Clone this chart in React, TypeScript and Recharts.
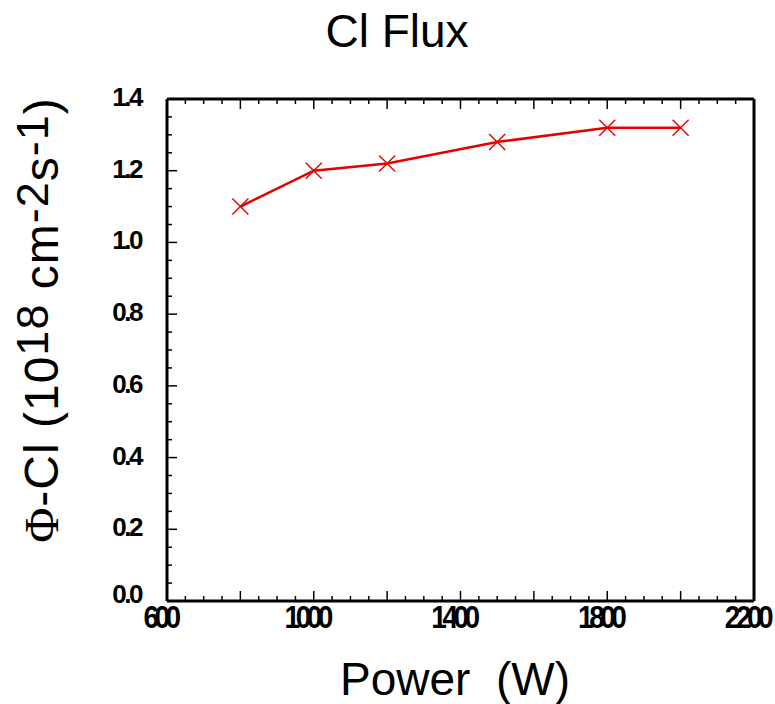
import React from "react";
import { LineChart, Line, XAxis, YAxis } from "recharts";

const power = [800, 1000, 1200, 1500, 1800, 2000];
const flux = [1.1, 1.2, 1.22, 1.28, 1.32, 1.32];
const xLabels = [600, 1000, 1400, 1800, 2200];
const yLabels = ["0.0", "0.2", "0.4", "0.6", "0.8", "1.0", "1.2", "1.4"];

const data = power.map((p, i) => ({ power: p, flux: flux[i] }));

// minor ticks every 50 W / 0.05
const xTicks: number[] = [];
for (let v = 600; v <= 2200; v += 50) xTicks.push(v);
const yTicks: number[] = [];
for (let i = 0; i <= 28; i++) yTicks.push(Math.round(i * 5) / 100);

const FONT = "'Liberation Sans', Arial, sans-serif";

function tickLen(v: number, step: number) {
  return Math.abs(v / step - Math.round(v / step)) < 1e-6 ? 10 : 5;
}

const BottomTick = (props: any) => {
  const { x, y, payload } = props;
  const v = payload.value;
  const len = tickLen(v, 200);
  return (
    <g>
      <line x1={x} x2={x} y1={y} y2={y - len} stroke="#000" strokeWidth={1.5} />
      {xLabels.includes(v) && (
        <text
          transform={`translate(${x - 7},${y + 27}) scale(1,1.15)`}
          textAnchor="middle"
          fontFamily={FONT}
          fontWeight="bold"
          fontSize={28}
          letterSpacing={-4.5}
          fill="#000"
        >
          {v}
        </text>
      )}
    </g>
  );
};

const TopTick = (props: any) => {
  const { x, y, payload } = props;
  const len = tickLen(payload.value, 200);
  return <line x1={x} x2={x} y1={y} y2={y + len} stroke="#000" strokeWidth={1.5} />;
};

const LeftTick = (props: any) => {
  const { x, y, payload } = props;
  const v = payload.value;
  const len = tickLen(v, 0.2);
  const label = yLabels.find((l) => Math.abs(parseFloat(l) - v) < 1e-6);
  return (
    <g>
      <line x1={x} x2={x + len} y1={y} y2={y} stroke="#000" strokeWidth={1.5} />
      {label && (
        <text
          x={x - 26}
          y={v === 0 ? y + 2 : y + 7}
          textAnchor="end"
          fontFamily={FONT}
          fontWeight="bold"
          fontSize={26}
          letterSpacing={-2.5}
          fill="#000"
        >
          {label}
        </text>
      )}
    </g>
  );
};

const RightTick = (props: any) => {
  const { x, y, payload } = props;
  const len = tickLen(payload.value, 0.2);
  return <line x1={x} x2={x - len} y1={y} y2={y} stroke="#000" strokeWidth={1.5} />;
};

const CrossDot = (props: any) => {
  const { cx, cy, index } = props;
  const s = 8;
  return (
    <g key={`dot-${index}`}>
      <line x1={cx - s} y1={cy - s} x2={cx + s} y2={cy + s} stroke="#e60000" strokeWidth={1.5} />
      <line x1={cx - s} y1={cy + s} x2={cx + s} y2={cy - s} stroke="#e60000" strokeWidth={1.5} />
    </g>
  );
};

const axisLine = { stroke: "#000", strokeWidth: 3 };

export default function App() {
  return (
    <div style={{ position: "absolute", left: 0, top: 0, width: 775, height: 704, background: "#fff" }}>
      <LineChart width={775} height={704} data={data} margin={{ top: 69, right: 11, bottom: 73, left: 107 }}>
        <XAxis
          dataKey="power"
          type="number"
          domain={[600, 2200]}
          ticks={xTicks}
          interval={0}
          tickSize={0}
          tickMargin={0}
          height={30}
          axisLine={axisLine}
          tick={<BottomTick />}
        />
        <XAxis
          xAxisId="top"
          orientation="top"
          dataKey="power"
          type="number"
          domain={[600, 2200]}
          ticks={xTicks}
          interval={0}
          tickSize={0}
          tickMargin={0}
          height={30}
          axisLine={axisLine}
          tick={<TopTick />}
        />
        <YAxis
          type="number"
          domain={[0, 1.4]}
          ticks={yTicks}
          interval={0}
          tickSize={0}
          tickMargin={0}
          width={60}
          axisLine={axisLine}
          tick={<LeftTick />}
        />
        <YAxis
          yAxisId="right"
          orientation="right"
          type="number"
          domain={[0, 1.4]}
          ticks={yTicks}
          interval={0}
          tickSize={0}
          tickMargin={0}
          width={10}
          axisLine={axisLine}
          tick={<RightTick />}
        />
        <Line
          dataKey="flux"
          stroke="#e60000"
          strokeWidth={2.5}
          dot={CrossDot}
          activeDot={false}
          isAnimationActive={false}
        />
      </LineChart>
      <svg
        width={775}
        height={704}
        style={{ position: "absolute", left: 0, top: 0, pointerEvents: "none" }}
        fontFamily={FONT}
      >
        <text x={397} y={47} textAnchor="middle" fontSize={46} fill="#000">
          Cl Flux
        </text>
        <text x={455} y={695} textAnchor="middle" fontSize={46} fill="#000" style={{ whiteSpace: "pre" }}>
          {"Power  (W)"}
        </text>
        <text
          transform="translate(58,320) rotate(-90)"
          textAnchor="middle"
          fontSize={48}
          letterSpacing={1}
          fill="#000"
        >
          <tspan fontFamily="'Liberation Serif', serif">Φ</tspan>
          <tspan>-Cl (10</tspan>
          <tspan fontSize={45} dy={-10}>18</tspan>
          <tspan dy={10}> cm</tspan>
          <tspan fontSize={45} dy={-10}>-2</tspan>
          <tspan dy={10}>s</tspan>
          <tspan fontSize={45} dy={-10}>-1</tspan>
          <tspan dy={10}>)</tspan>
        </text>
      </svg>
    </div>
  );
}
